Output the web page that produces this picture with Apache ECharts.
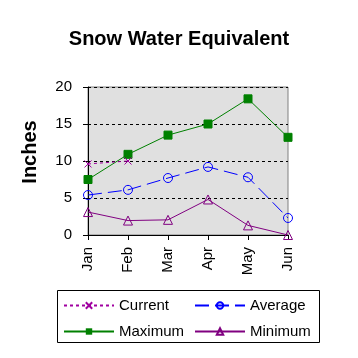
<!DOCTYPE html>
<html><head><meta charset="utf-8">
<script src="https://cdn.jsdelivr.net/npm/echarts@6/dist/echarts.min.js"></script>
<style>html,body{margin:0;padding:0;background:#fff}#c{width:358px;height:358px}</style>
</head><body><div id="c"></div>
<script>
var months = ['Jan','Feb','Mar','Apr','May','Jun'];
var current = [9.6, 10.0, null, null, null, null];
var average = [5.4, 6.1, 7.7, 9.2, 7.8, 2.3];
var maximum = [7.5, 10.9, 13.5, 15.0, 18.4, 13.2];
var minimum = [3.1, 1.95, 2.05, 4.8, 1.3, 0.0];
var yTicks = [0, 5, 10, 15, 20];

var font = 'Liberation Sans, Arial, sans-serif';
var chart = echarts.init(document.getElementById('c'), null, {renderer:'canvas'});
function leg(name, left, top){
  return {data:[name], left:left, top:top, padding:0, itemWidth:50, itemHeight:8, itemGap:0,
    textStyle:{fontFamily:font, fontSize:15, color:'#000'}, selectedMode:false};
}
chart.setOption({
  animation:false,
  title:{text:'Snow Water Equivalent', left:'center', top:24,
    textStyle:{fontFamily:font, fontSize:20, fontWeight:'bold', color:'#000'}},
  grid:{left:88, right:70, top:87, bottom:123, show:true, backgroundColor:'#e0e0e0', borderColor:'#808080', borderWidth:1},
  xAxis:{type:'category', data:months, boundaryGap:false,
    axisLine:{lineStyle:{color:'#000'}}, axisTick:{show:true, length:5, lineStyle:{color:'#000'}},
    axisLabel:{rotate:90, fontFamily:font, fontSize:15, color:'#000', margin:12}},
  yAxis:{type:'value', min:0, max:20, interval:5,
    axisLine:{show:true, lineStyle:{color:'#000'}}, axisTick:{show:true, length:5, lineStyle:{color:'#000'}},
    axisLabel:{fontFamily:font, fontSize:15, color:'#000', margin:16,
      formatter:function(v){return yTicks.indexOf(v)>=0? String(v):'';}},
    splitLine:{show:true, lineStyle:{color:'#000', type:[3,3]}}},
  legend:[leg('Current',63,298), leg('Average',194,298), leg('Maximum',63,324), leg('Minimum',194,324)],
  graphic:[
    {type:'rect', shape:{x:57.5, y:290.5, width:262, height:52}, style:{fill:'none', stroke:'#000', lineWidth:1}, z:-1},
    {type:'text', x:30, y:152, rotation:Math.PI/2, style:{text:'Inches', fontFamily:font, fontSize:20, fontWeight:'bold', fill:'#000', textAlign:'center', textVerticalAlign:'middle'}}
  ],
  series:[
    {name:'Current', type:'line', data:current, symbol:'path://M0,0L10,10M10,0L0,10', symbolSize:7,
      lineStyle:{color:'#a000a0', width:1, type:[3,3]}, itemStyle:{color:'transparent', borderColor:'#a000a0', borderWidth:1}, z:5},
    {name:'Average', type:'line', data:average, symbol:'circle', symbolSize:9,
      lineStyle:{color:'#0000ff', width:1, type:[14,6]}, itemStyle:{color:'transparent', borderColor:'#0000ff', borderWidth:1}, z:4},
    {name:'Maximum', type:'line', data:maximum, symbol:'rect', symbolSize:8,
      lineStyle:{color:'#008000', width:1}, itemStyle:{color:'#008000', borderColor:'#008000'}, z:3},
    {name:'Minimum', type:'line', data:minimum, symbol:'triangle', symbolSize:9,
      lineStyle:{color:'#800080', width:1}, itemStyle:{color:'transparent', borderColor:'#800080', borderWidth:1}, z:2}
  ]
});
</script></body></html>
